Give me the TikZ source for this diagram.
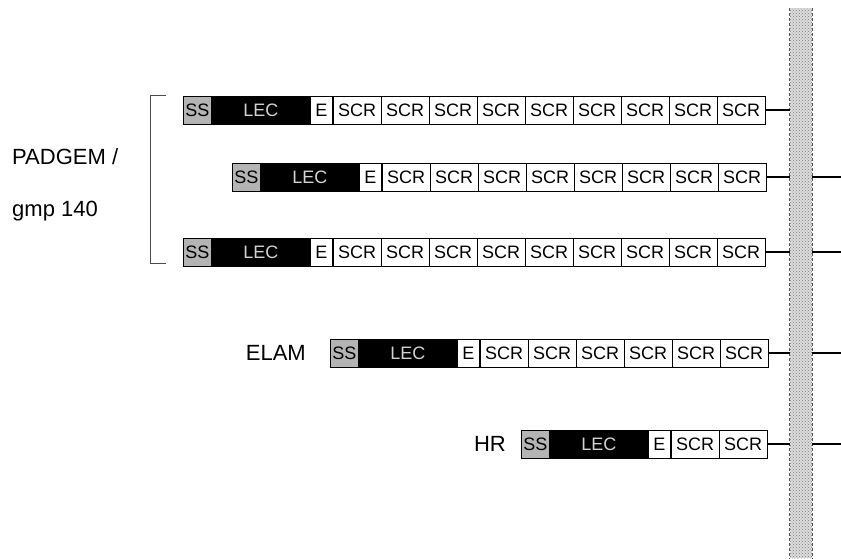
\documentclass[tikz,border=0pt]{standalone}
\usepackage{fontspec}
\setmainfont{Liberation Sans}
\usetikzlibrary{positioning,patterns}
\definecolor{ssgray}{HTML}{B4B4B4}
\definecolor{lectext}{HTML}{D2D2D2}
\definecolor{memfill}{HTML}{DCDCDC}
\definecolor{memedge}{HTML}{555555}
\tikzset{
  cell/.style={draw=black,line width=0.9pt,minimum height=28pt,inner sep=0pt,
    font=\fontsize{18}{20}\selectfont},
  sscell/.style={cell,fill=ssgray,minimum width=28pt},
  leccell/.style={cell,fill=black,text=lectext,minimum width=97pt},
  ecell/.style={cell,fill=white,minimum width=22pt},
  scrcell/.style={cell,fill=white,minimum width=48pt},
  grouplabel/.style={font=\fontsize{22}{26}\selectfont,inner sep=0pt},
  tether/.style={line width=1.4pt},
  membrane/.style={minimum width=22pt,minimum height=550pt,inner sep=0pt,
    preaction={fill=memfill},pattern=crosshatch dots,pattern color=gray}
}

\begin{document}
\begin{tikzpicture}[x=1pt,y=-1pt]
  \useasboundingbox (0,0) rectangle (841,558);
  \node[membrane] (mem) at (801,283) {};
  \draw[memedge,densely dashed,line width=0.8pt] (mem.north west) -- (mem.south west);
  \draw[memedge,densely dashed,line width=0.8pt] (mem.north east) -- (mem.south east);
  \coordinate (edge) at (841,0);

  % rows: name / start x / centre y / number of SCR cells
  \foreach \r/\x/\y/\n in {a/183/110/9,b/232/177/8,c/183/252/9,d/330/353/6,f/521/444/2}{
    \node[sscell,anchor=west] (ss\r) at (\x,\y) {SS};
    \node[leccell,right=0pt of ss\r] (lec\r) {LEC};
    \node[ecell,right=0pt of lec\r] (e\r) {E};
    \foreach \k in {1,...,\n}
      \node[scrcell,anchor=west] (scr\r-\k) at ([xshift={(\k-1)*48pt}]e\r.east) {SCR};
    \draw[tether] (scr\r-\n.east) -- (scr\r-\n.east -| mem.west);
  }
  \foreach \r in {b,c,d,f}
    \draw[tether] (mem.east |- ss\r) -- (edge |- ss\r);

  % labels
  \draw[gray!60!black,line width=0.8pt] (166,95) -- (150,95) -- (150,263) -- (166,263);
  \node[grouplabel,anchor=west] (padgem) at (12,157) {PADGEM /};
  \node[grouplabel,anchor=west] (gmp) at (12,211) {gmp 140};
  \node[grouplabel,left=24pt of ssd] (elam) {ELAM};
  \node[grouplabel,left=15pt of ssf] (hr) {HR};
\end{tikzpicture}
\end{document}
